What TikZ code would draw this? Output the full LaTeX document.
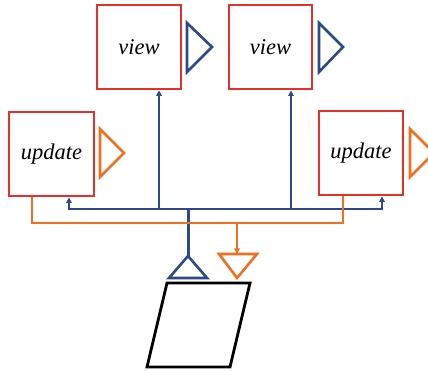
\documentclass[tikz,border=0pt]{standalone}
\usepackage{fontspec}
\setmainfont{Liberation Serif}
\usetikzlibrary{arrows.meta,calc}
\definecolor{boxred}{HTML}{E8302A}
\definecolor{busblue}{HTML}{2B4A8A}
\definecolor{busorange}{HTML}{F07020}
\tikzset{
  blockbox/.style={draw=boxred, line width=2.8pt, minimum width=84pt, minimum height=84pt, inner sep=0pt, font=\fontsize{22.5}{26}\selectfont\itshape},
  bluetri/.style={draw=busblue, line width=2.6pt, line join=miter},
  orangetri/.style={draw=busorange, line width=2.6pt, line join=miter},
  blueline/.style={draw=busblue, line width=2pt},
  orangeline/.style={draw=busorange, line width=1.8pt},
  tip/.style={-{Triangle[length=5.5pt,width=5.5pt]}},
  storebox/.style={draw=black, line width=2.8pt, line join=miter}
}
\begin{document}
\begin{tikzpicture}[x=1pt,y=-1pt]
\useasboundingbox (0,0) rectangle (428,371);
% boxes
\node[blockbox] (v1) at (139,47) {view};
\node[blockbox, minimum width=83pt] (v2) at (270.5,47) {view};
\node[blockbox, minimum width=85pt] (u1) at (51.5,154) {update};
\node[blockbox] (u2) at (361,153) {update};
% port triangles
\draw[bluetri] (187,23) -- (212,47) -- (187,72) -- cycle;
\draw[bluetri] (319,23) -- (343,47) -- (319,72) -- cycle;
\draw[orangetri] (100,129) -- (124,153) -- (100,177) -- cycle;
\draw[orangetri] (410,129) -- (434,153) -- (410,177) -- cycle;
% hubs
\coordinate (hub) at (188,209);
\coordinate (btop) at (188,256);
\coordinate (ohub) at (237,223);
\coordinate (otop) at (237,254);
% blue connectors
\draw[blueline, tip] (hub) -| ([xshift=20pt]v1.south);
\draw[blueline, tip] (hub) -| ([xshift=20.5pt]v2.south);
\draw[blueline, tip] (hub) -| ([xshift=17.5pt]u1.south);
\draw[blueline, tip] (hub) -| ([xshift=21pt]u2.south);
\draw[draw=busblue, line width=3pt] (hub) -- (btop);
% orange connectors
\draw[orangeline] ([xshift=-19.5pt]u1.south) |- (ohub) -| ([xshift=-18pt]u2.south);
\draw[orangeline, tip] (ohub) -- (otop);
% bottom triangles
\draw[bluetri] (btop) -- (207,278) -- (169,278) -- cycle;
\draw[orangetri] (219,254) -- (257,254) -- (237,278) -- cycle;
% store
\draw[storebox] (167,283) -- (250,283) -- (230,367) -- (147,367) -- cycle;
\end{tikzpicture}
\end{document}
